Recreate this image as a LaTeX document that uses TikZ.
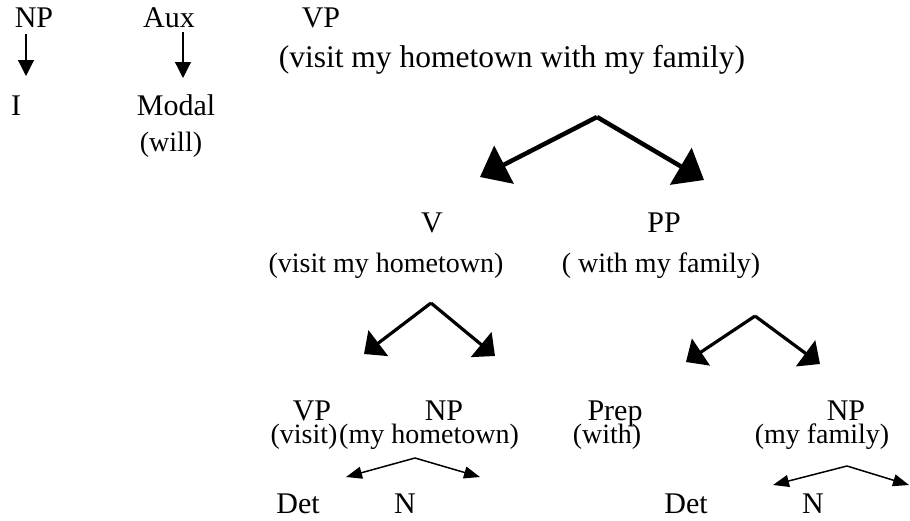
\documentclass[tikz,border=0pt]{standalone}
\usepackage{fontspec}
\setmainfont{Liberation Serif}
\usepackage{tikz}
\usetikzlibrary{
	arrows.meta,    % punte Triangle
	positioning
}

\begin{document}
\begin{tikzpicture}[
				x=1pt, y=-1pt,
				cat/.style={font=\fontsize{30}{36}\selectfont, inner sep=0pt, anchor=base},
				widecat/.style={cat, font=\fontsize{31.5}{36}\selectfont},
				gloss/.style={cat, font=\fontsize{28}{34}\selectfont},
				downarrow/.style={-{Triangle[length=16pt, width=16pt]}, line width=1.2pt},
				bigarrow/.style={-{Triangle[length=27pt, width=42pt]}, line width=4.5pt},
				midarrow/.style={-{Triangle[length=18pt, width=32pt]}, line width=3.2pt},
				smallarrow/.style={-{Triangle[length=16pt, width=12pt]}, line width=1.5pt}
				]
				
				% --- Bordo ---
				\useasboundingbox (0,0) rectangle (910,520);
				
				% ==================================================================
				% --- RIGA 1: NP, Aux, VP ---
				% ==================================================================
				\node[cat] (np) at (34,27) {NP};
				\node[cat] (aux) at (169,27) {Aux};
				\node[cat] (vp) at (321,27) {VP};
				\node[widecat] (vpgloss) at (512,67) {(visit my hometown with my family)};
				
				\node[cat] (i) at (16,115) {I};
				\node[cat] (modal) at (176,115) {Modal};
				\node[gloss] (will) at (171,151) {(will)};
				
				% Frecce verso il basso
				\coordinate (npfrom) at (26,34);
				\coordinate (npto) at (26,76);
				\coordinate (auxfrom) at (183,32);
				\coordinate (auxto) at (183,78);
				\draw[downarrow] (npfrom) -- (npto);
				\draw[downarrow] (auxfrom) -- (auxto);
				
				% --- Ramificazione di VP ---
				\coordinate (vpapex) at (597,117);
				\coordinate (vpleft) at (480,177);
				\coordinate (vpright) at (704,180);
				\draw[bigarrow] (vpapex) -- (vpleft);
				\draw[bigarrow] (vpapex) -- (vpright);
				
				% ==================================================================
				% --- RIGA 2: V e PP ---
				% ==================================================================
				\node[cat] (v) at (432,232) {V};
				\node[cat] (pp) at (664,232) {PP};
				\node[gloss] (vgloss) at (386,272) {(visit my hometown)};
				\node[gloss] (ppgloss) at (661,272) {( with my family)};
				
				% Ramificazione di V
				\coordinate (vapex) at (431,303);
				\coordinate (vleft) at (364,354);
				\coordinate (vright) at (495,356);
				\draw[midarrow] (vapex) -- (vleft);
				\draw[midarrow] (vapex) -- (vright);
				
				% Ramificazione di PP
				\coordinate (ppapex) at (755,316);
				\coordinate (ppleft) at (686,362);
				\coordinate (ppright) at (820,364);
				\draw[midarrow] (ppapex) -- (ppleft);
				\draw[midarrow] (ppapex) -- (ppright);
				
				% ==================================================================
				% --- RIGA 3: VP, NP, Prep, NP ---
				% ==================================================================
				\node[cat] (vpb) at (312,420) {VP};
				\node[gloss] (visit) at (304,443) {(visit)};
				\node[cat] (npb) at (444,420) {NP};
				\node[gloss] (hometown) at (429,443) {(my hometown)};
				\node[cat] (prep) at (615,420) {Prep};
				\node[gloss] (with) at (607,443) {(with)};
				\node[cat] (npc) at (846,420) {NP};
				\node[gloss] (family) at (822,443) {(my family)};
				
				% Ramificazione di NP (my hometown)
				\coordinate (hapex) at (415,458);
				\coordinate (hleft) at (346,477);
				\coordinate (hright) at (480,477);
				\draw[smallarrow] (hapex) -- (hleft);
				\draw[smallarrow] (hapex) -- (hright);
				
				% Ramificazione di NP (my family)
				\coordinate (fapex) at (847,466);
				\coordinate (fleft) at (773,485);
				\coordinate (fright) at (909,485);
				\draw[smallarrow] (fapex) -- (fleft);
				\draw[smallarrow] (fapex) -- (fright);
				
				% ==================================================================
				% --- RIGA 4: Det e N ---
				% ==================================================================
				\node[cat] (deta) at (298,513) {Det};
				\node[cat] (na) at (405,513) {N};
				\node[cat] (detb) at (686,513) {Det};
				\node[cat] (nb) at (813,513) {N};
		\end{tikzpicture}
\end{document}
